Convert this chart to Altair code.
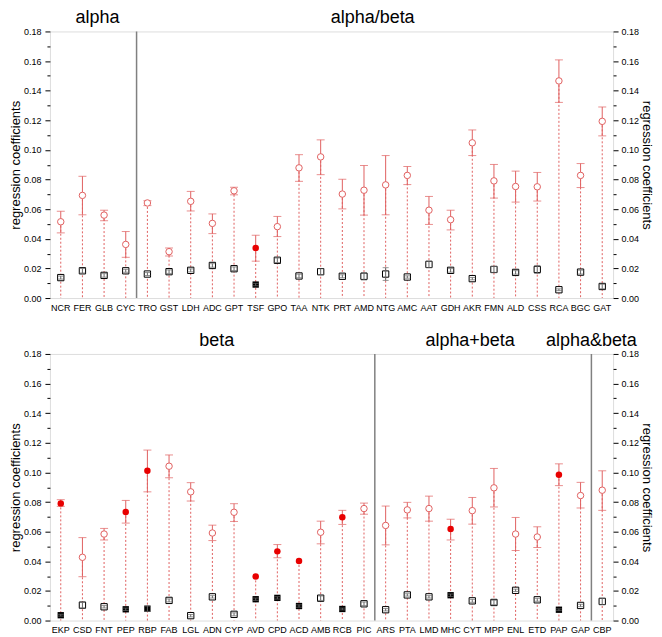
import altair as alt
import pandas as pd

FONT = "Liberation Sans"
RED_L = "#e06060"
RED = "#e80000"
SQ_ERR = "#666666"

# ---------------- top panel ----------------
top_cats = ["NCR", "FER", "GLB", "CYC", "TRO", "GST", "LDH", "ADC", "GPT", "TSF", "GPO", "TAA", "NTK",
            "PRT", "AMD", "NTG", "AMC", "AAT", "GDH", "AKR", "FMN", "ALD", "CSS", "RCA", "BGC", "GAT"]
top_val = [0.0515, 0.0693, 0.0560, 0.0362, 0.0642, 0.0313, 0.0653, 0.0504, 0.0724, 0.0338, 0.0482, 0.0879, 0.0953,
           0.0702, 0.0728, 0.0764, 0.0828, 0.0593, 0.0529, 0.1048, 0.0791, 0.0753, 0.0751, 0.1466, 0.0828, 0.1193]
top_lo = [0.0440, 0.0562, 0.0522, 0.0275, 0.0624, 0.0284, 0.0588, 0.0435, 0.0697, 0.0249, 0.0415, 0.0788, 0.0833,
          0.0602, 0.0560, 0.0562, 0.0766, 0.0497, 0.0460, 0.0962, 0.0675, 0.0648, 0.0655, 0.1321, 0.0746, 0.1095]
top_hi = [0.0586, 0.0822, 0.0593, 0.0449, 0.0657, 0.0338, 0.0720, 0.0568, 0.0748, 0.0424, 0.0551, 0.0968, 0.1068,
          0.0802, 0.0895, 0.0962, 0.0888, 0.0686, 0.0593, 0.1135, 0.0902, 0.0857, 0.0848, 0.1608, 0.0908, 0.1290]
top_sq = [0.0138, 0.0184, 0.0153, 0.0184, 0.0162, 0.0178, 0.0187, 0.0220, 0.0198, 0.0091, 0.0255, 0.0149, 0.0178,
          0.0147, 0.0147, 0.0162, 0.0142, 0.0227, 0.0187, 0.0131, 0.0193, 0.0173, 0.0193, 0.0056, 0.0175, 0.0078]
top_sq_err = [0.0010, 0.0015, 0.0012, 0.0010, 0.0010, 0.0012, 0.0010, 0.0012, 0.0012, 0.0008, 0.0015, 0.0012, 0.0020,
              0.0010, 0.0025, 0.0043, 0.0008, 0.0022, 0.0012, 0.0008, 0.0020, 0.0012, 0.0027, 0.0006, 0.0013, 0.0015]
top_sig = [0, 0, 0, 0, 0, 0, 0, 0, 0, 1, 0, 0, 0,
           0, 0, 0, 0, 0, 0, 0, 0, 0, 0, 0, 0, 0]
top_seps = ["TRO"]
top_titles = [("alpha", "GLB", 0.2), ("alpha/beta", "AMD", 0.9)]

# ---------------- bottom panel ----------------
bot_cats = ["EKP", "CSD", "FNT", "PEP", "RBP", "FAB", "LGL", "ADN", "CYP", "AVD", "CPD", "ACD", "AMB", "RCB", "PIC",
            "ARS", "PTA", "LMD", "MHC", "CYT", "MPP", "ENL", "ETD", "PAP", "GAP", "CBP"]
bot_val = [0.0791, 0.0427, 0.0584, 0.0733, 0.1011, 0.1042, 0.0869, 0.0591, 0.0731, 0.0298, 0.0467, 0.0402, 0.0596,
           0.0698, 0.0756, 0.0642, 0.0747, 0.0756, 0.0618, 0.0742, 0.0896, 0.0584, 0.0564, 0.0984, 0.0844, 0.0880]
bot_lo = [0.0771, 0.0296, 0.0544, 0.0658, 0.0869, 0.0964, 0.0807, 0.0540, 0.0669, None, 0.0424, None, 0.0518,
          0.0649, 0.0718, 0.0511, 0.0693, 0.0671, 0.0544, 0.0651, 0.0767, 0.0473, 0.0493, 0.0911, 0.0760, 0.0744]
bot_hi = [0.0816, 0.0560, 0.0622, 0.0811, 0.1151, 0.1118, 0.0931, 0.0644, 0.0789, None, 0.0513, None, 0.0671,
          0.0744, 0.0793, 0.0773, 0.0798, 0.0840, 0.0684, 0.0831, 0.1027, 0.0696, 0.0633, 0.1058, 0.0933, 0.1011]
bot_sq = [0.0036, 0.0104, 0.0093, 0.0076, 0.0080, 0.0136, 0.0033, 0.0160, 0.0042, 0.0144, 0.0153, 0.0098, 0.0151,
          0.0078, 0.0113, 0.0073, 0.0173, 0.0160, 0.0171, 0.0133, 0.0122, 0.0204, 0.0140, 0.0073, 0.0102, 0.0129]
bot_sq_err = [0.0006, 0.0020, 0.0008, 0.0008, 0.0018, 0.0010, 0.0008, 0.0008, 0.0010, 0.0008, 0.0008, 0.0008, 0.0015,
              0.0006, 0.0012, 0.0008, 0.0008, 0.0008, 0.0008, 0.0010, 0.0015, 0.0008, 0.0010, 0.0006, 0.0008, 0.0022]
bot_sig = [1, 0, 0, 1, 1, 0, 0, 0, 0, 1, 1, 1, 0, 1, 0,
           0, 0, 0, 1, 0, 0, 0, 0, 1, 0, 0]
bot_seps = ["ARS", "CBP"]
bot_titles = [("beta", "ADN", 0.7), ("alpha+beta", "CYT", 0.4), ("alpha&beta", "CBP", 0.0)]

major_ticks = [0.0, 0.02, 0.04, 0.06, 0.08, 0.10, 0.12, 0.14, 0.16, 0.18]
minor_ticks = [0.01, 0.03, 0.05, 0.07, 0.09, 0.11, 0.13, 0.15, 0.17]
Y_TITLE = "regression coefficients"

W, H = 564, 267


def panel(cats, val, lo, hi, sq, sqe, sig, seps, titles):
    df = pd.DataFrame({
        "cat": cats, "val": val, "lo": lo, "hi": hi, "sq": sq,
        "sqlo": [s - e for s, e in zip(sq, sqe)],
        "sqhi": [s + e for s, e in zip(sq, sqe)],
        "sig": sig,
    })
    xs = alt.Scale(domain=cats, paddingInner=0, paddingOuter=0)
    xaxis = alt.Axis(title=None, labelAngle=0, ticks=False, domain=False, grid=False, labelFontSize=9,
                     labelPadding=5, labelFont=FONT, labelColor="black")
    x = alt.X("cat:N", scale=xs, axis=xaxis)
    ys = alt.Scale(domain=[0, 0.18], nice=False, zero=True)

    def yf(f, axis=None):
        return alt.Y(f + ":Q", scale=ys, axis=axis)

    left_major = alt.Axis(orient="left", values=major_ticks, format=".2f", tickSize=5, tickColor="black",
                          labelFontSize=9, labelPadding=4, labelFont=FONT, labelColor="black", domain=False,
                          grid=False, title=Y_TITLE, titleFont=FONT, titleFontSize=13, titleFontWeight="normal",
                          titlePadding=1, titleColor="black")
    right_major = alt.Axis(orient="right", values=major_ticks, format=".2f", tickSize=5, tickColor="black",
                           labelFontSize=9, labelPadding=3, labelFont=FONT, labelColor="black", domain=False,
                           grid=False, title=Y_TITLE, titleFont=FONT, titleFontSize=13, titleFontWeight="normal",
                           titlePadding=1, titleColor="black")
    left_minor = alt.Axis(orient="left", values=minor_ticks, tickSize=3, tickColor="black", labels=False,
                          domain=False, grid=False, title=None)
    right_minor = alt.Axis(orient="right", values=minor_ticks, tickSize=3, tickColor="black", labels=False,
                           domain=False, grid=False, title=None)

    base = alt.Chart(df)
    sig_base = base.transform_filter("datum.sig == 1")
    ns_base = base.transform_filter("datum.sig == 0")

    dotted = base.mark_rule(color=RED_L, strokeDash=[2, 2], strokeWidth=1).encode(
        x=x, y=yf("val", left_minor), y2=alt.datum(0))
    err = base.mark_rule(color=RED_L, strokeWidth=1).encode(x=x, y=yf("lo", right_minor), y2="hi:Q")
    cap_lo = base.mark_tick(color=RED_L, thickness=1, size=8).encode(x=x, y=yf("lo"))
    cap_hi = base.mark_tick(color=RED_L, thickness=1, size=8).encode(x=x, y=yf("hi"))
    circ_open = ns_base.mark_point(shape="circle", size=42, strokeWidth=1, opacity=1, color=RED_L,
                                   fill="white", fillOpacity=1, filled=False).encode(
        x=x, y=yf("val", left_major))
    circ_fill = sig_base.mark_point(shape="circle", size=42, strokeWidth=1, opacity=1, color=RED,
                                    filled=True).encode(x=x, y=yf("val"))
    sq_open = ns_base.mark_point(shape="square", size=40, strokeWidth=1, opacity=1, color="black",
                                 fill="white", fillOpacity=1, filled=False).encode(
        x=x, y=yf("sq", right_major))
    sq_fill = sig_base.mark_point(shape="square", size=40, strokeWidth=1, opacity=1, color="black",
                                  filled=True).encode(x=x, y=yf("sq"))
    sq_err = base.mark_rule(color=SQ_ERR, strokeWidth=1).encode(x=x, y=yf("sqlo"), y2="sqhi:Q")
    sq_cap_lo = base.mark_tick(color=SQ_ERR, thickness=1, size=6).encode(x=x, y=yf("sqlo"))
    sq_cap_hi = base.mark_tick(color=SQ_ERR, thickness=1, size=6).encode(x=x, y=yf("sqhi"))
    seps_layer = alt.Chart(pd.DataFrame({"cat": seps})).mark_rule(color="#808080", strokeWidth=1.5).encode(
        x=alt.X("cat:N", scale=xs, axis=xaxis, bandPosition=0))

    title_layers = []
    for label, cat, bp in titles:
        title_layers.append(
            alt.Chart(pd.DataFrame({"cat": [cat], "label": [label]})).mark_text(
                fontSize=18, font=FONT, baseline="alphabetic", color="black").encode(
                x=alt.X("cat:N", scale=xs, axis=xaxis, bandPosition=bp),
                y=alt.value(-8),
                text="label:N",
            )
        )

    layers = [dotted, err, cap_lo, cap_hi, circ_open, circ_fill, sq_open, sq_fill,
              sq_err, sq_cap_lo, sq_cap_hi, seps_layer] + title_layers
    return alt.layer(*layers).resolve_axis(y="independent").resolve_scale(y="shared").properties(
        width=W, height=H)


top = panel(top_cats, top_val, top_lo, top_hi, top_sq, top_sq_err, top_sig, top_seps, top_titles)
bottom = panel(bot_cats, bot_val, bot_lo, bot_hi, bot_sq, bot_sq_err, bot_sig, bot_seps, bot_titles)

chart = alt.vconcat(top, bottom, spacing=18).properties(padding=0).configure_view(
    stroke="#333333", strokeWidth=1.5
).configure(background="white")

chart.save("out.html", embed_options={"renderer": "svg", "actions": False})
